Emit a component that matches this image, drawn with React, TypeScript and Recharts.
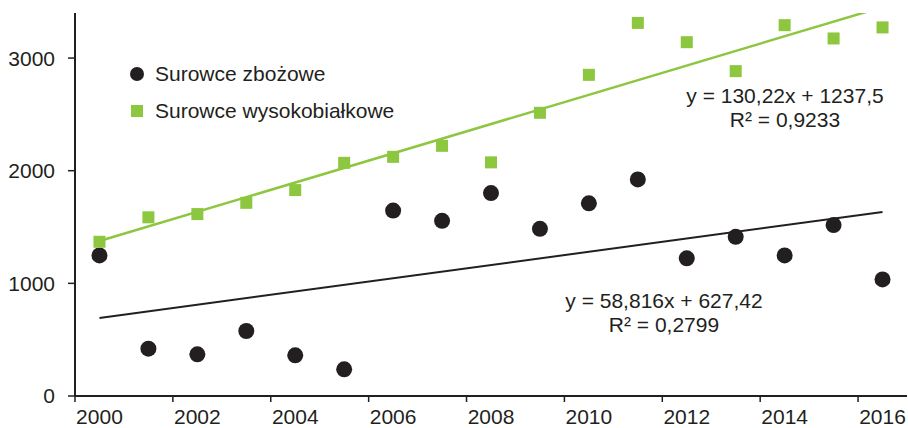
import { ScatterChart, Scatter, XAxis, YAxis } from 'recharts'

// Years (points sit in the middle of each year slot)
const years = [
  2000, 2001, 2002, 2003, 2004, 2005, 2006, 2007, 2008, 2009, 2010, 2011, 2012, 2013, 2014, 2015, 2016,
]
const zbozowe = [
  1248, 420, 370, 577, 361, 237, 1646, 1555, 1801, 1484, 1710, 1923, 1222, 1413, 1248, 1517, 1035,
]
const wysokobialkowe = [
  1369, 1586, 1615, 1715, 1828, 2070, 2123, 2221, 2074, 2514, 2851, 3312, 3141, 2884, 3292, 3174, 3272,
]
const xTicks = [2000, 2002, 2004, 2006, 2008, 2010, 2012, 2014, 2016]
const yTicks = [0, 1000, 2000, 3000]

const W = 908
const H = 428
const LEFT = 75
const RIGHT = 1
const HALF_SLOT = (W - LEFT - RIGHT) / 17 / 2

const DARK = '#231f20'
const GREEN = '#8dc63f'
const FONT = '"Liberation Sans", Arial, sans-serif'

const zbozoweData = years.map((y, i) => ({ x: y + 0.5, y: zbozowe[i] }))
const bialkoweData = years.map((y, i) => ({ x: y + 0.5, y: wysokobialkowe[i] }))

const YearTick = ({ x, y, payload }: any) => (
  <text x={x + HALF_SLOT} y={y} dy="0.71em" textAnchor="middle" fill={DARK} fontSize={21} fontFamily={FONT}>
    {payload.value}
  </text>
)

const Dot = ({ cx, cy }: any) => <circle cx={cx} cy={cy} r={8} fill={DARK} />
const Square = ({ cx, cy }: any) => <rect x={cx - 6} y={cy - 6} width={12} height={12} fill={GREEN} />

const eqStyle: React.CSSProperties = {
  position: 'absolute',
  width: 300,
  textAlign: 'center',
  fontSize: 21,
  lineHeight: '23.5px',
  color: DARK,
  fontFamily: FONT,
}

const legendRow: React.CSSProperties = {
  position: 'absolute',
  left: 130,
  height: 23,
  display: 'flex',
  alignItems: 'center',
  fontSize: 21,
  color: DARK,
  fontFamily: FONT,
  whiteSpace: 'nowrap',
}

export default function App() {
  return (
    <div style={{ position: 'absolute', left: 0, top: 0, width: W, height: H, background: '#fff' }}>
      <ScatterChart width={W} height={H} margin={{ top: 13, right: RIGHT, bottom: 0, left: 0 }}>
        <XAxis
          type="number"
          dataKey="x"
          domain={[2000, 2017]}
          ticks={xTicks}
          height={32}
          axisLine={{ stroke: DARK, strokeWidth: 2 }}
          tickLine={{ stroke: DARK, strokeWidth: 1.5 }}
          tickSize={6}
          tickMargin={7}
          tick={<YearTick />}
        />
        <YAxis
          type="number"
          dataKey="y"
          domain={[0, 3400]}
          allowDataOverflow
          ticks={yTicks}
          width={LEFT}
          axisLine={{ stroke: DARK, strokeWidth: 2 }}
          tickLine={{ stroke: DARK, strokeWidth: 1.5 }}
          tickSize={7}
          tickMargin={13}
          tick={{ fill: DARK, fontSize: 21, fontFamily: FONT }}
        />
        <Scatter
          name="Surowce zbożowe"
          data={zbozoweData}
          shape={<Dot />}
          line={{ stroke: DARK, strokeWidth: 2 }}
          lineType="fitting"
          isAnimationActive={false}
        />
        <Scatter
          name="Surowce wysokobiałkowe"
          data={bialkoweData}
          shape={<Square />}
          line={{ stroke: GREEN, strokeWidth: 2.5 }}
          lineType="fitting"
          isAnimationActive={false}
        />
      </ScatterChart>

      <div style={{ ...legendRow, top: 62.5 }}>
        <span style={{ width: 14, height: 14, borderRadius: '50%', background: DARK, marginRight: 11 }} />
        Surowce zbożowe
      </div>
      <div style={{ ...legendRow, top: 99.5 }}>
        <span style={{ width: 12, height: 12, background: GREEN, margin: '0 12px 0 1px' }} />
        Surowce wysokobiałkowe
      </div>

      <div style={{ ...eqStyle, left: 635, top: 84 }}>
        y = 130,22x + 1237,5
        <br />
        R² = 0,9233
      </div>
      <div style={{ ...eqStyle, left: 514, top: 289 }}>
        y = 58,816x + 627,42
        <br />
        R² = 0,2799
      </div>
    </div>
  )
}
